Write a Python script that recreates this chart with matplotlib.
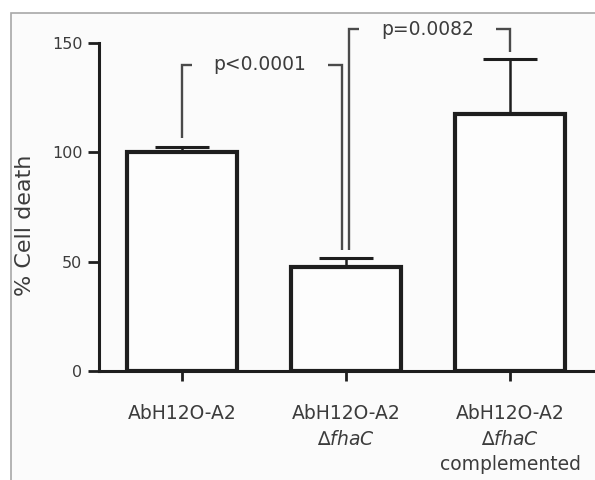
import matplotlib
matplotlib.use("Agg")
import matplotlib.pyplot as plt
from matplotlib.patches import Rectangle

plt.rcParams['font.family'] = ['DejaVu Sans']
plt.rcParams['mathtext.fontset'] = 'dejavusans'

# ---- data ----
categories = ["AbH12O-A2", "AbH12O-A2\n∆$\\mathit{fhaC}$",
              "AbH12O-A2\n∆$\\mathit{fhaC}$\ncomplemented"]
means = [100.0, 47.6, 117.5]
err_upper = [2.4, 4.1, 25.2]
yticks = [0, 50, 100, 150]
p_labels = ["p<0.0001", "p=0.0082"]
# brackets: (x_left, x_right, y_left_bottom, y_right_bottom, y_top)
bracket1 = (0.0, 0.976, 106.5, 55.3, 140.0)
bracket2 = (1.018, 2.0, 55.3, 146.0, 156.4)

text_col = "#3c3c3c"
line_col = "#1e1e1e"

fig = plt.figure(figsize=(5.95, 4.8), dpi=100)
fig.patch.set_facecolor("white")
# light panel with gray border
fig.patches.append(Rectangle((11/595, -0.01), 1.0, 1 - 13/480 + 0.01,
                             transform=fig.transFigure, facecolor="#fbfbfb",
                             edgecolor="#a8a8a8", linewidth=1.2, zorder=-1))

ax = fig.add_axes([99/595, 109/480, 496/595, 328/480])
ax.set_facecolor("none")
x = list(range(len(categories)))
ax.bar(x, means, width=0.67, facecolor="#fdfdfd", edgecolor=line_col,
       linewidth=3.0, zorder=3)
ax.errorbar(x, means, yerr=[[0]*len(means), err_upper], fmt="none",
            ecolor=line_col, elinewidth=1.8, capsize=19.5, capthick=2.2, zorder=2)

ax.set_xlim(-0.506, 2.518)
ax.set_ylim(0, 150)
ax.set_yticks(yticks)
ax.set_xticks(x)
ax.set_xticklabels(categories, fontsize=13.5, color=text_col, linespacing=1.42)
ax.tick_params(axis="y", labelsize=11.5, labelcolor=text_col, length=8,
               width=2, color=line_col, pad=4)
ax.tick_params(axis="x", length=7, width=2, color=line_col, pad=17)
for s in ["top", "right"]:
    ax.spines[s].set_visible(False)
for s in ["left", "bottom"]:
    ax.spines[s].set_linewidth(2.2)
    ax.spines[s].set_color(line_col)
ax.set_ylabel("% Cell death", fontsize=16, color=text_col)
ax.yaxis.set_label_coords(-0.13, 0.445)

def draw_bracket(b, label):
    xl, xr, yl, yr, yt = b
    gap_l = xl + (xr - xl) * 0.065
    gap_r = xr - (xr - xl) * 0.09
    kw = dict(color="#4a4a4a", linewidth=1.7, clip_on=False, zorder=4,
              solid_capstyle="butt", solid_joinstyle="miter")
    ax.plot([xl, xl, gap_l], [yl, yt, yt], **kw)
    ax.plot([gap_r, xr, xr], [yt, yt, yr], **kw)
    ax.text((gap_l + gap_r) / 2, yt, label, ha="center", va="center",
            fontsize=13.5, color=text_col, clip_on=False)

draw_bracket(bracket1, p_labels[0])
draw_bracket(bracket2, p_labels[1])

fig.savefig("out.png", dpi=100, facecolor=fig.get_facecolor())
